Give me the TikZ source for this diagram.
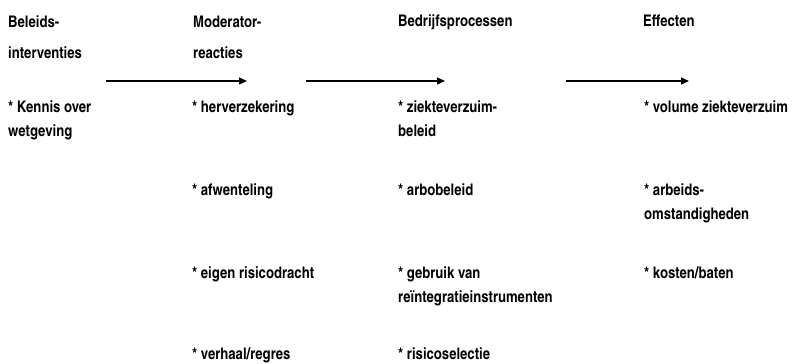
\documentclass[tikz,border=0pt]{standalone}
\usepackage{fontspec}
\setmainfont{texgyreheroscn}[Extension=.otf,UprightFont=*-bold,BoldFont=*-bold]
\usetikzlibrary{arrows.meta}
\tikzset{
  head/.style={anchor=base west,inner sep=0pt,align=left,font=\fontsize{16}{31}\selectfont},
  item/.style={anchor=base west,inner sep=0pt,align=left,font=\fontsize{16}{24}\selectfont},
  arr/.style={line width=1.4pt,-{Triangle[length=8pt,width=7pt]}}
}
\begin{document}
\begin{tikzpicture}[x=1pt,y=-1pt]
\useasboundingbox (0,0) rectangle (796,364);
% headings (multi-line nodes are anchored at the baseline of their last line)
\node[head] (h1) at (8,58) {Beleids-\\interventies};
\node[head] (h2) at (193,58) {Moderator-\\reacties};
\node[head] (h3) at (398,27) {Bedrijfsprocessen};
\node[head] (h4) at (643,27) {Effecten};
% arrows
\coordinate (a1s) at (106,81); \coordinate (a1e) at (247,81);
\coordinate (a2s) at (306,81); \coordinate (a2e) at (445,81);
\coordinate (a3s) at (566,81); \coordinate (a3e) at (689,81);
\draw[arr] (a1s) -- (a1e);
\draw[arr] (a2s) -- (a2e);
\draw[arr] (a3s) -- (a3e);
% column 1
\node[item] (c1a) at (8,136) {* Kennis over\\wetgeving};
% column 2
\node[item] (c2a) at (192,112) {* herverzekering};
\node[item] (c2b) at (192,195) {* afwenteling};
\node[item] (c2c) at (192,278) {* eigen risicodracht};
\node[item] (c2d) at (192,359) {* verhaal/regres};
% column 3
\node[item] (c3a) at (398,136) {* ziekteverzuim-\\beleid};
\node[item] (c3b) at (398,195) {* arbobeleid};
\node[item] (c3c) at (398,302) {* gebruik van\\reïntegratieinstrumenten};
\node[item] (c3d) at (398,359) {* risicoselectie};
% column 4
\node[item] (c4a) at (644,112) {* volume ziekteverzuim};
\node[item] (c4b) at (644,219) {* arbeids-\\omstandigheden};
\node[item] (c4c) at (644,278) {* kosten/baten};
\end{tikzpicture}
\end{document}
